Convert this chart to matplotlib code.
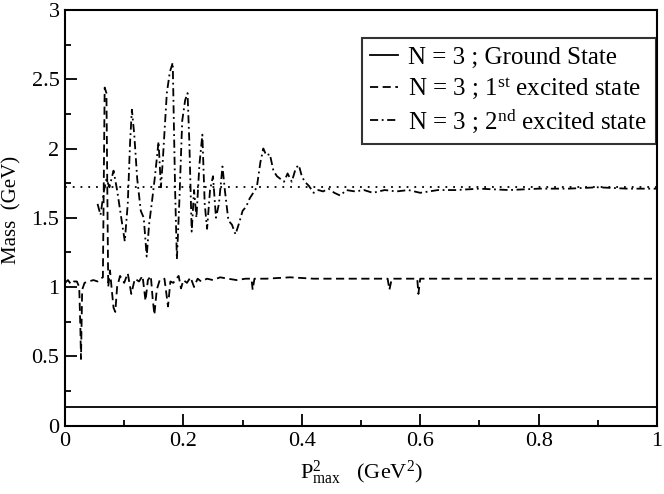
import matplotlib
matplotlib.use("Agg")
import matplotlib.pyplot as plt
from matplotlib.ticker import MultipleLocator

plt.rcParams['font.family'] = ['Liberation Serif', 'DejaVu Serif']
plt.rcParams['mathtext.fontset'] = 'custom'
plt.rcParams['mathtext.rm'] = 'Liberation Serif'
plt.rcParams['mathtext.it'] = 'Liberation Serif:italic'

# ground state
x_ground = [0.0, 0.25, 0.5, 0.75, 1.0]
y_ground = [0.135, 0.135, 0.135, 0.135, 0.135]

# 1st excited state
x_first = [0.000, 0.005, 0.010, 0.015, 0.020, 0.024, 0.026, 0.027, 0.029, 0.033,
           0.040, 0.048, 0.055, 0.060, 0.064, 0.067, 0.070, 0.073, 0.076, 0.079,
           0.082, 0.085, 0.088, 0.093, 0.100, 0.106, 0.112, 0.118, 0.125, 0.131,
           0.136, 0.140, 0.145, 0.148, 0.151, 0.155, 0.160, 0.168, 0.174, 0.178,
           0.183, 0.188, 0.192, 0.196, 0.200, 0.206, 0.212, 0.218, 0.224, 0.230,
           0.240, 0.250, 0.262, 0.275, 0.290, 0.305, 0.315, 0.317, 0.320, 0.340,
           0.380, 0.420, 0.480, 0.545, 0.548, 0.552, 0.595, 0.597, 0.600, 0.700,
           1.000]
y_first = [1.03, 1.05, 1.02, 1.04, 1.04, 1.00, 0.70, 0.48, 0.98, 1.03,
           1.04, 1.05, 1.04, 1.06, 1.07, 2.44, 2.40, 1.00, 1.12, 0.98,
           0.85, 0.82, 1.00, 1.08, 1.03, 1.10, 0.95, 1.06, 1.04, 1.08,
           0.90, 1.05, 1.08, 0.92, 0.80, 0.98, 1.05, 1.06, 0.86, 1.04,
           1.03, 1.06, 1.08, 0.99, 1.05, 1.03, 1.07, 1.00, 1.06, 1.04,
           1.06, 1.05, 1.07, 1.06, 1.05, 1.06, 1.06, 0.98, 1.06, 1.06,
           1.07, 1.06, 1.06, 1.06, 0.98, 1.06, 1.06, 0.95, 1.06, 1.06,
           1.06]

# 2nd excited state
x_second = [0.055, 0.060, 0.066, 0.070, 0.075, 0.082, 0.088, 0.095, 0.101, 0.106,
            0.110, 0.113, 0.117, 0.122, 0.128, 0.133, 0.138, 0.142, 0.147, 0.152,
            0.158, 0.162, 0.165, 0.172, 0.177, 0.182, 0.186, 0.189, 0.193, 0.198,
            0.203, 0.207, 0.210, 0.214, 0.218, 0.222, 0.227, 0.232, 0.236, 0.240,
            0.245, 0.250, 0.255, 0.260, 0.266, 0.270, 0.276, 0.282, 0.288, 0.294,
            0.300, 0.306, 0.312, 0.318, 0.324, 0.330, 0.335, 0.340, 0.346, 0.352,
            0.358, 0.364, 0.370, 0.376, 0.383, 0.390, 0.395, 0.400, 0.405, 0.412,
            0.420, 0.428, 0.436, 0.445, 0.455, 0.465, 0.475, 0.490, 0.505, 0.520,
            0.540, 0.560, 0.580, 0.600, 0.630, 0.660, 0.700, 0.750, 0.800, 0.850,
            0.900, 0.950, 1.000]
y_second = [1.60, 1.52, 1.70, 1.78, 1.72, 1.84, 1.70, 1.50, 1.33, 1.60,
            2.05, 2.28, 2.10, 1.78, 1.55, 1.50, 1.22, 1.45, 1.62, 1.80,
            2.05, 1.72, 1.90, 2.40, 2.55, 2.62, 1.70, 1.20, 1.60, 2.20,
            2.35, 2.40, 2.05, 1.40, 1.70, 1.50, 1.88, 2.10, 1.60, 1.42,
            1.70, 1.80, 1.50, 1.60, 1.87, 1.70, 1.48, 1.45, 1.38, 1.46,
            1.55, 1.58, 1.64, 1.68, 1.72, 1.90, 2.00, 1.95, 1.96, 1.84,
            1.80, 1.78, 1.76, 1.82, 1.76, 1.86, 1.88, 1.80, 1.76, 1.73,
            1.68, 1.70, 1.69, 1.71, 1.68, 1.66, 1.70, 1.69, 1.70, 1.68,
            1.70, 1.69, 1.70, 1.68, 1.70, 1.70, 1.71, 1.70, 1.71, 1.71,
            1.72, 1.71, 1.71]

# reference level
x_ref = [0.0, 1.0]
y_ref = [1.72, 1.72]

fig = plt.figure(figsize=(6.64, 4.94), dpi=100)
ax = fig.add_axes([65/664, 68.5/494, 592/664, 415.5/494])

ax.plot(x_ground, y_ground, color='black', linewidth=1.3, linestyle='-',
        label=r'N = 3 ; Ground State')
ax.plot(x_first, y_first, color='black', linewidth=1.3, linestyle=(0, (4.5, 2.5)),
        label=r'N = 3 ; 1$^{\rm st}$ excited state')
ax.plot(x_second, y_second, color='black', linewidth=1.3, linestyle=(0, (4.5, 2, 1, 2)),
        label=r'N = 3 ; 2$^{\rm nd}$ excited state')
ax.plot(x_ref, y_ref, color='black', linewidth=1.3, linestyle=(0, (1, 3.3)))

ax.set_xlim(0, 1)
ax.set_ylim(0, 3)
ax.xaxis.set_major_locator(MultipleLocator(0.2))
ax.xaxis.set_minor_locator(MultipleLocator(0.1))
ax.yaxis.set_major_locator(MultipleLocator(0.5))
ax.yaxis.set_minor_locator(MultipleLocator(0.25))
ax.xaxis.set_major_formatter(plt.FuncFormatter(lambda v, p: '%g' % v))
ax.yaxis.set_major_formatter(plt.FuncFormatter(lambda v, p: '%g' % v))
ax.tick_params(which='both', direction='in', labelsize=16, width=1.3)
ax.tick_params(which='major', length=8.5)
ax.tick_params(which='minor', length=4.5)
ax.tick_params(axis='x', pad=5)
ax.tick_params(axis='y', pad=4)
for s in ax.spines.values():
    s.set_linewidth(1.5)

ax.set_xlabel(r'P$^{2}_{\rm max}$   (GeV$^{2}$)', fontsize=16, labelpad=5)
ax.set_ylabel('Mass  (GeV)', fontsize=15)
ax.yaxis.set_label_coords(-0.0735, 0.52)

leg = ax.legend(loc='upper right', bbox_to_anchor=(0.998, 0.933), borderaxespad=0,
                fontsize=18, frameon=True, fancybox=False, handlelength=1.1,
                handletextpad=0.4, borderpad=0.35, labelspacing=0.25)
leg.get_frame().set_edgecolor('black')
leg.get_frame().set_linewidth(1.5)

fig.savefig('out.png', dpi=100)
